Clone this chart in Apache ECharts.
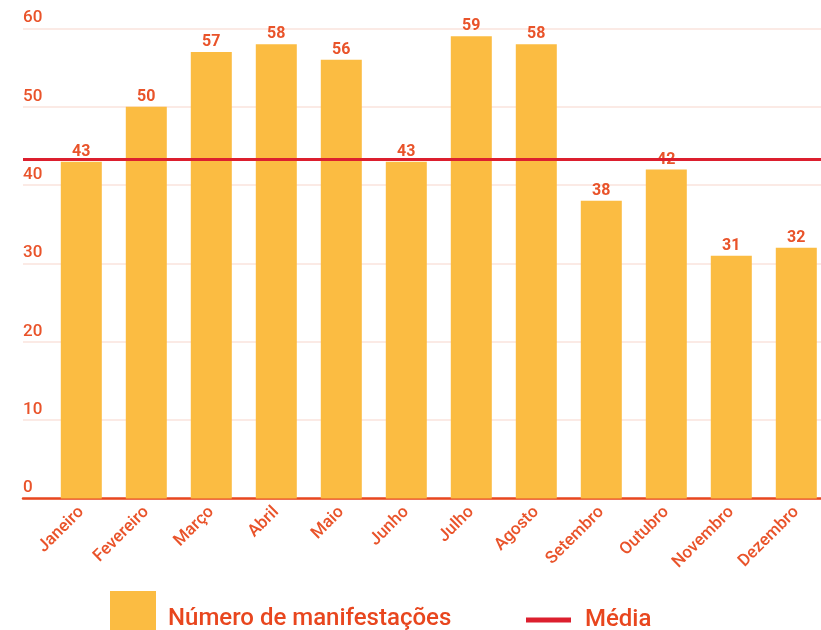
<!DOCTYPE html>
<html>
<head>
<meta charset="utf-8">
<script src="https://cdn.jsdelivr.net/npm/echarts@6/dist/echarts.min.js"></script>
<style>
  html, body { margin: 0; padding: 0; background: #fff; }
  #chart { width: 821px; height: 630px; }
</style>
</head>
<body>
<div id="chart"></div>
<script>
  // dados
  const meses = ['Janeiro', 'Fevereiro', 'Março', 'Abril', 'Maio', 'Junho',
    'Julho', 'Agosto', 'Setembro', 'Outubro', 'Novembro', 'Dezembro'];
  const manifestacoes = [43, 50, 57, 58, 56, 43, 59, 58, 38, 42, 31, 32];
  const media = 43.3;
  const yTicks = [0, 10, 20, 30, 40, 50, 60];

  const laranja = '#e9532a';
  const fonte = 'Roboto, sans-serif';

  const chart = echarts.init(document.getElementById('chart'));

  const option = {
    animation: false,
    textStyle: { fontFamily: fonte },
    grid: [
      // barras (passa um pouco da borda direita, como no original)
      { left: 48.8, width: 780, top: 28.5, bottom: 131.5, outerBoundsMode: 'none' },
      // eixo / linhas de grade
      { left: 23, right: 0, top: 28.5, bottom: 131.5, outerBoundsMode: 'none' }
    ],
    xAxis: [
      {
        gridIndex: 0,
        type: 'category',
        data: meses,
        axisLine: { show: false },
        axisTick: { show: false },
        axisLabel: {
          rotate: 45,
          margin: 11,
          color: laranja,
          fontSize: 17,
          fontWeight: 500,
          fontFamily: fonte
        }
      },
      {
        gridIndex: 1,
        type: 'category',
        data: meses,
        boundaryGap: false,
        axisLine: { show: true, lineStyle: { color: '#e8471f', width: 2.5 } },
        axisTick: { show: false },
        axisLabel: { show: false }
      }
    ],
    yAxis: [
      {
        gridIndex: 0,
        type: 'value',
        min: yTicks[0],
        max: yTicks[yTicks.length - 1],
        show: false
      },
      {
        gridIndex: 1,
        type: 'value',
        min: yTicks[0],
        max: yTicks[yTicks.length - 1],
        interval: 10,
        axisLine: { show: false },
        axisTick: { show: false },
        splitLine: { lineStyle: { color: '#fae3dc', width: 1.5 } },
        axisLabel: {
          inside: true,
          margin: 0,
          verticalAlign: 'bottom',
          padding: [0, 0, 2, 0],
          color: laranja,
          fontSize: 17,
          fontWeight: 500,
          fontFamily: fonte
        }
      }
    ],
    legend: [
      {
        // quadrado cortado pela borda de baixo, como no original
        data: ['Número de manifestações'],
        left: 105,
        top: 586,
        icon: 'rect',
        itemWidth: 46,
        itemHeight: 56,
        textStyle: { color: '#e8461e', fontSize: 24, fontWeight: 500, fontFamily: fonte, padding: [0, 0, 0, 7] }
      },
      {
        data: ['Média'],
        left: 521,
        top: 603,
        icon: 'rect',
        itemWidth: 45,
        itemHeight: 5,
        textStyle: { color: '#e8461e', fontSize: 24, fontWeight: 500, fontFamily: fonte, padding: [0, 0, 0, 9] }
      }
    ],
    series: [
      {
        name: 'Número de manifestações',
        type: 'bar',
        xAxisIndex: 0,
        yAxisIndex: 0,
        data: manifestacoes,
        barWidth: 41,
        itemStyle: { color: '#fbbc42' },
        label: {
          show: true,
          position: 'top',
          distance: 2,
          color: laranja,
          fontSize: 16,
          fontWeight: 'bold',
          fontFamily: fonte
        }
      },
      {
        name: 'Média',
        type: 'line',
        xAxisIndex: 1,
        yAxisIndex: 1,
        data: [],
        itemStyle: { color: '#dc1f2e' },
        lineStyle: { color: '#dc1f2e', width: 3 },
        markLine: {
          silent: true,
          symbol: 'none',
          label: { show: false },
          lineStyle: { color: '#dc1f2e', width: 3, type: 'solid' },
          data: [{ yAxis: media }]
        }
      }
    ]
  };

  chart.setOption(option);
</script>
</body>
</html>
